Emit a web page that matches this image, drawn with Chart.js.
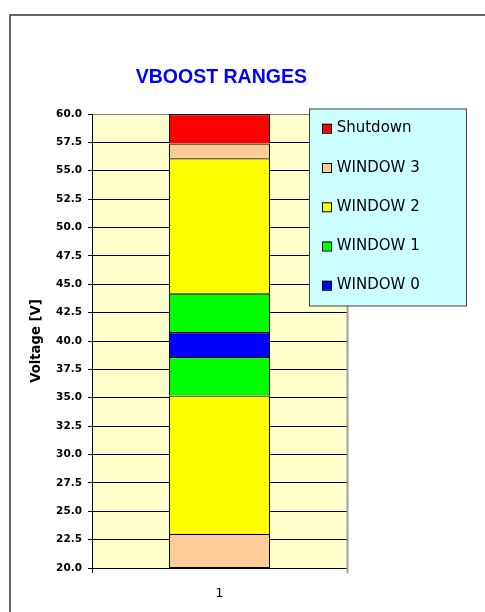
<!DOCTYPE html>
<html><head><meta charset="utf-8">
<script src="https://cdn.jsdelivr.net/npm/chart.js@4.4.0/dist/chart.umd.min.js"></script>
<style>html,body{margin:0;padding:0;background:#fff;}#wrap{width:485px;height:612px;position:relative;}</style>
</head><body><div id="wrap"><canvas id="c" width="485" height="612"></canvas></div>
<script>
// ---- data ----
const categories = ['1'];
const chartTitle = 'VBOOST RANGES';
const yAxisTitle = 'Voltage [V]';
const yMin = 20, yMax = 60, yStep = 2.5;
// legend order
const seriesNames = ['Shutdown', 'WINDOW 3', 'WINDOW 2', 'WINDOW 1', 'WINDOW 0'];
const seriesColors = ['#FF0000', '#FFCC99', '#FFFF00', '#00FF00', '#0000FF'];
// stacked segments, bottom to top
const segmentSeries = ['WINDOW 3', 'WINDOW 2', 'WINDOW 1', 'WINDOW 0', 'WINDOW 1', 'WINDOW 2', 'WINDOW 3', 'Shutdown'];
const segmentLow  = [20.0, 23.0, 35.2, 38.6, 40.8, 44.2, 56.1, 57.4];
const segmentHigh = [23.0, 35.2, 38.6, 40.8, 44.2, 56.1, 57.4, 60.0];

const colorOf = name => seriesColors[seriesNames.indexOf(name)];

const datasets = segmentSeries.map((name, i) => ({
  label: name,
  data: [[segmentLow[i], segmentHigh[i]]],
  backgroundColor: colorOf(name),
  borderColor: '#000000',
  borderWidth: { top: 1.3, left: 1, right: 1, bottom: i === 0 ? 1 : 0 },
  borderSkipped: false,
  grouped: false,
  categoryPercentage: 1,
  barPercentage: 0.396
}));

const decorPlugin = {
  id: 'decor',
  beforeDraw(chart) {
    const ctx = chart.ctx, a = chart.chartArea;
    ctx.save();
    ctx.fillStyle = '#FFFFCC';
    ctx.fillRect(a.left, a.top, a.right - a.left, a.bottom - a.top);
    // outer frame
    ctx.strokeStyle = '#333333';
    ctx.lineWidth = 1.5;
    ctx.strokeRect(10, 15, 490, 700);
    ctx.restore();
  },
  beforeDatasetsDraw(chart) {
    const ctx = chart.ctx, a = chart.chartArea;
    ctx.save();
    ctx.strokeStyle = '#A0A0A0';
    ctx.lineWidth = 2;
    ctx.beginPath();
    ctx.moveTo(a.right + 0.5, a.top);
    ctx.lineTo(a.right + 0.5, a.bottom + 5);
    ctx.stroke();
    ctx.restore();
  },
  afterDraw(chart) {
    const ctx = chart.ctx;
    ctx.save();
    // title
    ctx.fillStyle = '#0000FF';
    ctx.font = 'bold 19.5px "Liberation Sans", Arial, sans-serif';
    ctx.textAlign = 'center';
    ctx.textBaseline = 'alphabetic';
    ctx.fillText(chartTitle, 221.3, 82.7);
    // legend
    const lx = 309, ly = 108.5, lw = 157, lh = 197;
    ctx.fillStyle = '#CCFFFF';
    ctx.fillRect(lx, ly, lw, lh);
    ctx.strokeStyle = '#404040';
    ctx.lineWidth = 1;
    ctx.strokeRect(lx + 0.5, ly + 0.5, lw, lh);
    ctx.font = '15px "DejaVu Sans", sans-serif';
    ctx.textAlign = 'left';
    seriesNames.forEach((name, i) => {
      const base = 132.3 + i * 39.25;
      ctx.fillStyle = seriesColors[i];
      ctx.fillRect(322, base - 8.5, 9, 9);
      ctx.strokeStyle = '#000000';
      ctx.strokeRect(322.5, base - 8, 9, 9);
      ctx.fillStyle = '#000000';
      ctx.fillText(name, 336.7, base);
    });
    ctx.restore();
  }
};

new Chart(document.getElementById('c'), {
  type: 'bar',
  data: { labels: categories, datasets },
  plugins: [decorPlugin],
  options: {
    responsive: false,
    animation: false,
    devicePixelRatio: 1,
    layout: { padding: { left: 0, right: 138, top: 114, bottom: 0 } },
    plugins: { legend: { display: false }, title: { display: false }, tooltip: { enabled: false } },
    scales: {
      x: {
        type: 'category',
        grid: { display: true, drawOnChartArea: false, drawTicks: true, tickLength: 5, color: '#000000', offset: true },
        border: { display: true, color: '#000000', width: 1 },
        ticks: { color: '#000000', font: { family: 'DejaVu Sans', size: 13 }, padding: 13 },
        afterFit(s) { s.height = 44; }
      },
      y: {
        min: yMin, max: yMax,
        ticks: { stepSize: yStep, callback: v => Number(v).toFixed(1), color: '#000000',
                 font: { family: 'DejaVu Sans', size: 10.5, weight: 'bold' }, padding: 6 },
        grid: { color: c => (c.tick && c.tick.value === yMax) ? '#808080' : '#000000',
                tickColor: '#000000', tickLength: 4, lineWidth: 1 },
        border: { display: true, color: '#000000', width: 1 },
        title: { display: true, text: yAxisTitle, color: '#000000',
                 font: { family: 'DejaVu Sans', size: 13.2, weight: 'bold' }, padding: { top: 29, bottom: 0 } },
        afterFit(s) { s.width = 92; }
      }
    }
  }
});
</script></body></html>
